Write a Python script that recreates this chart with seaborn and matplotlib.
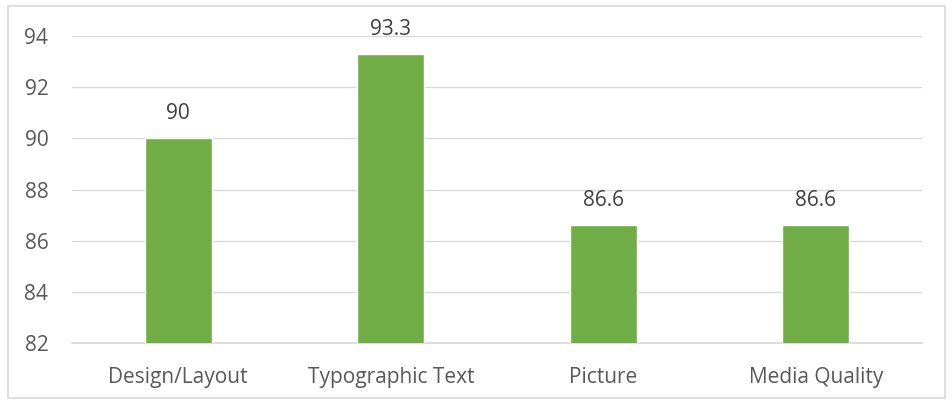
import pandas as pd
import matplotlib.pyplot as plt
import seaborn as sns
from matplotlib.patches import Rectangle

categories = ['Design/Layout', 'Typographic Text', 'Picture', 'Media Quality']
values = [90, 93.3, 86.6, 86.6]
labels = ['90', '93.3', '86.6', '86.6']

sns.set_theme(style='white')
plt.rcParams['font.family'] = ['Open Sans', 'DejaVu Sans']

df = pd.DataFrame({'category': categories, 'value': values})

fig = plt.figure(figsize=(9.52, 4), dpi=100)
ax = fig.add_axes([0.0756, 0.1425, 0.893, 0.7675])
sns.barplot(data=df, x='category', y='value', color='#70AD47', width=0.315,
            saturation=1, ax=ax, zorder=3)

ax.set_ylim(82, 94)
ax.set_yticks(range(82, 95, 2))
ax.yaxis.grid(True, color='#D9D9D9', linewidth=1, zorder=0)
ax.set_xlabel('')
ax.set_ylabel('')
for s in ['top', 'right', 'left']:
    ax.spines[s].set_visible(False)
ax.spines['bottom'].set_color('#D9D9D9')
ax.tick_params(axis='both', colors='#595959', labelsize=15, length=0)
ax.tick_params(axis='x', pad=17)
ax.tick_params(axis='y', pad=17)

for i, (v, t) in enumerate(zip(values, labels)):
    ax.text(i, v + 0.55, t, ha='center', va='bottom', fontsize=15, color='#404040')

fig.patches.append(Rectangle((8 / 952, 0.004), 937 / 952, 0.98, transform=fig.transFigure,
                             fill=False, edgecolor='#D9D9D9', linewidth=1.2))

fig.savefig('out.png', dpi=100)
